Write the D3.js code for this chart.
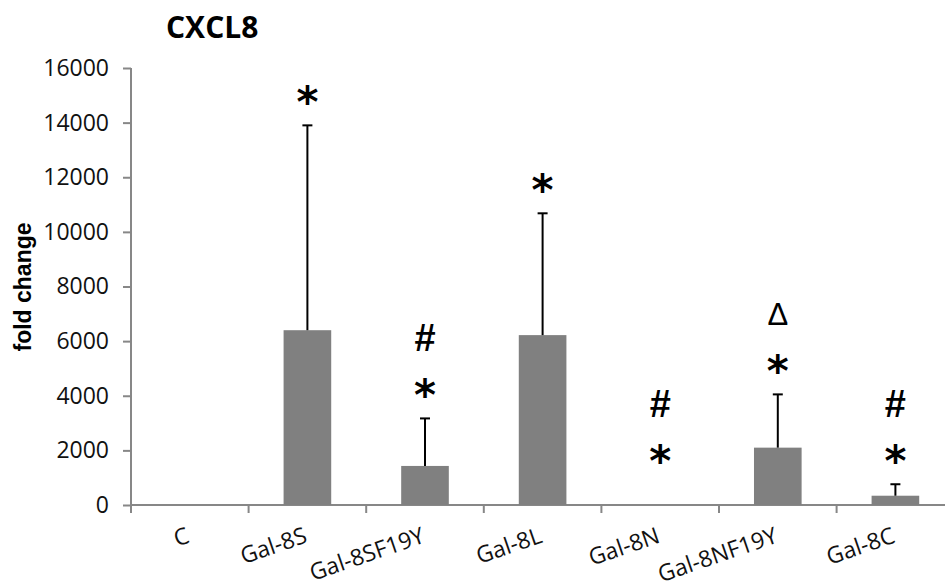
<!DOCTYPE html>
<html>
<head>
<meta charset="utf-8">
<script src="https://cdn.jsdelivr.net/npm/d3@7"></script>
<style>
  html, body { margin: 0; padding: 0; background: #fff; }
  svg { display: block; }
</style>
</head>
<body>
<script>
// CXCL8 expression: mean fold change per treatment with upper SD bar
const categories = ["C", "Gal-8S", "Gal-8SF19Y", "Gal-8L", "Gal-8N", "Gal-8NF19Y", "Gal-8C"];
const means      = [0, 6400, 1430, 6220, 0, 2100, 340];
const upperBars  = [0, 13900, 3170, 10680, 0, 4050, 760];
// significance marks per group, listed bottom to top
const marks      = [[], ["*"], ["*", "#"], ["*"], ["*", "#"], ["*", "\u0394"], ["*", "#"]];
const yTicks     = [0, 2000, 4000, 6000, 8000, 10000, 12000, 14000, 16000];

(function draw() {
  const W = 945, H = 584;
  const plotLeft = 131, plotTop = 68, plotBottom = 505, band = 117.6;

  const svg = d3.select("body").append("svg").attr("width", W).attr("height", H);

  const x = d3.scaleBand().domain(categories)
    .range([plotLeft, plotLeft + band * categories.length]).padding(0);
  const y = d3.scaleLinear().domain([0, 16000]).range([plotBottom, plotTop]);

  const axisColor = "#878787";
  const labelFont = "'Open Sans', sans-serif";

  // title
  svg.append("text").attr("x", 166).attr("y", 38)
    .attr("font-family", labelFont).attr("font-weight", 700)
    .attr("font-size", 30).attr("fill", "#000").text("CXCL8");

  // y axis
  const yAxis = d3.axisLeft(y).tickValues(yTicks).tickSize(8).tickPadding(14).tickFormat(d3.format("d"));
  const gy = svg.append("g").attr("transform", `translate(${plotLeft},0)`).call(yAxis);
  gy.select(".domain").attr("stroke", axisColor).attr("stroke-width", 2)
    .attr("d", `M0,${plotTop}V${plotBottom + 8}`);
  gy.selectAll(".tick line").attr("stroke", axisColor).attr("stroke-width", 2);
  gy.selectAll(".tick text").attr("font-family", labelFont)
    .attr("font-size", 23).attr("fill", "#111");

  // y axis title
  svg.append("text")
    .attr("transform", `translate(31,287) rotate(-90)`)
    .attr("text-anchor", "middle")
    .attr("font-family", "'Liberation Sans', Arial, sans-serif").attr("font-weight", 700)
    .attr("font-size", 23).attr("fill", "#000").text("fold change");

  // x axis baseline and category boundary ticks
  svg.append("line").attr("x1", plotLeft).attr("x2", W + 20)
    .attr("y1", plotBottom).attr("y2", plotBottom)
    .attr("stroke", axisColor).attr("stroke-width", 2);
  svg.append("g").selectAll("line").data(categories.slice(1)).join("line")
    .attr("x1", d => x(d)).attr("x2", d => x(d))
    .attr("y1", plotBottom).attr("y2", plotBottom + 8)
    .attr("stroke", axisColor).attr("stroke-width", 2);

  // category labels, slanted
  svg.append("g").selectAll("text").data(categories).join("text")
    .attr("transform", d => `translate(${x(d) + x.bandwidth() / 2 + 1},${plotBottom + 37}) rotate(-19)`)
    .attr("text-anchor", "end")
    .attr("font-family", labelFont).attr("font-size", 23).attr("fill", "#111")
    .text(d => d);

  const rows = categories.map((c, i) => ({ c, m: means[i], u: upperBars[i], marks: marks[i] }));
  const barW = x.bandwidth() * 0.405;
  const cx = d => x(d.c) + x.bandwidth() / 2;

  // bars
  svg.append("g").selectAll("rect").data(rows.filter(d => d.m > 0)).join("rect")
    .attr("x", d => cx(d) - barW / 2).attr("width", barW)
    .attr("y", d => y(d.m)).attr("height", d => y(0) - y(d.m))
    .attr("fill", "#808080");

  // upper error bars
  const eb = svg.append("g").attr("stroke", "#000").attr("stroke-width", 2);
  rows.filter(d => d.u > d.m).forEach(d => {
    eb.append("line").attr("x1", cx(d)).attr("x2", cx(d)).attr("y1", y(d.m)).attr("y2", y(d.u));
    eb.append("line").attr("x1", cx(d) - 5).attr("x2", cx(d) + 5).attr("y1", y(d.u)).attr("y2", y(d.u));
  });

  // significance marks stacked above each group
  const markStyle = {
    "*": { font: "'DejaVu Sans', sans-serif", size: 42, weight: 700, dy: 0.47 },
    "#": { font: "'Liberation Sans', Arial, sans-serif", size: 38, weight: 700, dy: 0.36 },
    "\u0394": { font: "'Liberation Sans', Arial, sans-serif", size: 31, weight: 400, dy: 0.36 }
  };
  rows.forEach(d => {
    if (!d.marks.length) return;
    const anchorY = Math.min(y(d.u), y(0) - 21);
    d.marks.forEach((m, k) => {
      const s = markStyle[m];
      const centerY = anchorY - 28 - k * 53;
      svg.append("text")
        .attr("x", cx(d)).attr("y", centerY + s.size * s.dy)
        .attr("text-anchor", "middle")
        .attr("font-family", s.font).attr("font-weight", s.weight)
        .attr("font-size", s.size).attr("fill", "#000").text(m);
    });
  });
})();
</script>
</body>
</html>
